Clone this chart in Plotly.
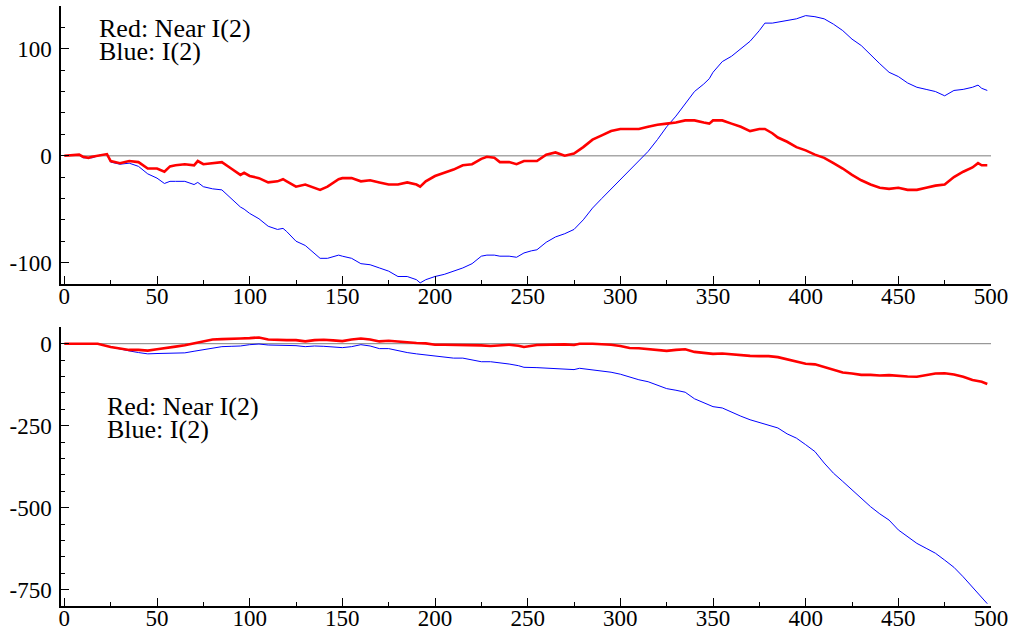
import plotly.graph_objects as go

# ---------------- data ----------------
top_x = [0, 5, 8, 10, 13, 15, 20, 23, 25, 30, 35, 40, 45, 50, 54, 57, 60, 65, 70, 72, 75, 80, 85, 90, 95, 97,
         100, 105, 110, 115, 118, 120, 125, 130, 135, 138, 142, 148, 150, 155, 160, 165, 170, 175, 180, 185,
         190, 192, 195, 200, 205, 210, 215, 220, 225, 228, 232, 235, 240, 244, 248, 252, 255, 260, 265, 270,
         275, 280, 285, 290, 295, 300, 305, 310, 315, 320, 325, 330, 335, 340, 345, 348, 350, 355, 360, 365,
         370, 375, 378, 382, 385, 390, 395, 400, 405, 410, 415, 420, 425, 430, 435, 440, 445, 450, 455, 460,
         465, 470, 475, 480, 485, 490, 493, 495, 498]

top_red = [0, 1, 1, -1, -2, -1, 1, 1.5, -5, -7, -5, -6, -12, -12, -15, -10, -9, -8, -9, -5, -8, -7, -6, -12, -18, -16,
           -19, -21, -25, -24, -22, -24, -29, -27, -30, -32, -29, -22, -21, -21, -24, -23, -25, -27, -27, -25,
           -27, -29, -24, -19, -16, -13, -9, -8, -3, -1, -2, -6, -6, -8, -5, -5, -5, 1, 3, 0,
           2, 8, 15, 19, 23, 25, 25, 25, 27, 29, 30, 31, 33, 33, 31, 30, 33, 33, 30, 27,
           23, 25, 25, 21, 17, 13, 8, 5, 1, -2, -7, -12, -18, -23, -27, -30, -31, -30, -32, -32,
           -30, -28, -27, -20, -15, -11, -7, -9, -9]

top_blue = [0, 1, 1, -2, -2, -2, 1, 1, -6, -8, -7, -10, -17, -21, -26, -24, -24, -24, -27, -25, -29, -31, -32, -40, -48, -50,
            -54, -59, -66, -69, -68, -71, -80, -84, -91, -96, -96, -93, -94, -96, -101, -102, -105, -108, -113, -113,
            -116, -119, -116, -113, -111, -108, -105, -101, -94, -93, -93, -94, -94, -95, -91, -89, -88, -81, -76, -73,
            -69, -60, -49, -40, -31, -23, -13, -4.5, 4, 15, 27, 37, 48, 60, 67, 72, 78, 88, 93, 100,
            107, 117, 124, 124, 125, 127, 128, 131, 130, 128, 123, 117, 109, 103, 94, 86, 78, 74, 68, 64,
            62, 60, 56, 61, 62, 64, 66, 63, 61]

bot_x = [0, 10, 18, 25, 30, 35, 40, 45, 50, 55, 60, 65, 70, 75, 80, 85, 90, 95, 100, 105, 110, 115, 120, 125,
         130, 135, 140, 145, 150, 155, 160, 165, 170, 175, 180, 185, 190, 195, 200, 205, 210, 215, 220, 225,
         230, 235, 240, 245, 248, 255, 260, 265, 270, 275, 278, 285, 290, 295, 300, 305, 310, 315, 320, 325,
         330, 335, 340, 345, 350, 355, 360, 365, 370, 375, 380, 385, 390, 395, 400, 405, 410, 415, 420, 425,
         430, 435, 440, 445, 450, 455, 460, 465, 470, 475, 480, 485, 490, 495, 498]

bot_red = [0, 0, 0, -10, -15, -19, -19, -21, -17, -12, -9, -5, 1, 7, 13, 14, 14, 16, 17, 19, 13, 11, 11, 11,
           7, 11, 12, 10, 8, 13, 16, 13, 7, 9, 6, 4, 2, 1, -3, -3, -3, -3, -4, -5,
           -7, -5, -3, -6, -10, -4, -3, -3, -2, -4, 0, 0, -1, -3, -7, -13, -14, -16, -19, -22,
           -19, -17, -25, -29, -31, -30, -33, -36, -37, -38, -38, -41, -48, -53, -61, -63, -71, -80, -88, -91,
           -95, -95, -97, -96, -99, -100, -101, -96, -91, -90, -94, -101, -111, -116, -123]

bot_blue = [0, 0, 0, -10, -17, -22, -27, -31, -30, -30, -30, -28, -23, -18, -14, -9, -8, -7, -3, -1, -4, -4, -5, -6,
            -9, -7, -8, -11, -12, -9, -3, -7, -15, -15, -22, -27, -31, -34, -37, -42, -44, -44, -49, -55,
            -55, -58, -62, -67, -72, -73, -74, -76, -78, -79, -75, -80, -82, -87, -93, -102, -110, -116, -127, -137,
            -142, -148, -168, -181, -192, -196, -209, -221, -232, -240, -247, -257, -275, -288, -308, -329, -364, -395, -420, -446,
            -471, -497, -519, -538, -568, -589, -609, -624, -639, -660, -682, -711, -743, -773, -793]

x_ticks = [0, 50, 100, 150, 200, 250, 300, 350, 400, 450, 500]
top_y_ticks = [-100, 0, 100]
bot_y_ticks = [-750, -500, -250, 0]
legend_lines = ["Red: Near I(2)", "Blue: I(2)"]

# ---------------- figure ----------------
FONT = "Liberation Serif, Times New Roman, serif"
fig = go.Figure()

fig.add_trace(go.Scatter(x=top_x, y=top_blue, mode="lines", line=dict(color="#0000ff", width=1),
                         xaxis="x", yaxis="y", showlegend=False))
fig.add_trace(go.Scatter(x=top_x, y=top_red, mode="lines", line=dict(color="#ff0000", width=2.6),
                         xaxis="x", yaxis="y", showlegend=False))
fig.add_trace(go.Scatter(x=bot_x, y=bot_blue, mode="lines", line=dict(color="#0000ff", width=1),
                         xaxis="x2", yaxis="y2", showlegend=False))
fig.add_trace(go.Scatter(x=bot_x, y=bot_red, mode="lines", line=dict(color="#ff0000", width=2.6),
                         xaxis="x2", yaxis="y2", showlegend=False))

# zero reference lines
fig.add_shape(type="line", xref="x", yref="y", x0=0, x1=500, y0=0, y1=0,
              line=dict(color="#a8a8a8", width=1.5), layer="below")
fig.add_shape(type="line", xref="x2", yref="y2", x0=0, x1=500, y0=0, y1=0,
              line=dict(color="#808080", width=1), layer="below")


def fmt(v):
    return str(v).replace("\u2212", "-")


xaxis_common = dict(
    range=[-1.8, 500], tickmode="array", tickvals=x_ticks, ticktext=[fmt(v) for v in x_ticks],
    ticks="inside", ticklen=8, tickwidth=1, tickcolor="black",
    showline=True, linecolor="black", linewidth=1.5, showgrid=False, zeroline=False,
    tickfont=dict(family=FONT, size=23, color="black"),
    ticklabelstandoff=-9,
    minor=dict(dtick=25, tick0=0, ticks="inside", ticklen=4, tickcolor="black", showgrid=False),
    automargin=False, fixedrange=True,
)

yaxis_common = dict(
    ticks="inside", ticklen=8, tickcolor="black",
    showline=True, linecolor="black", linewidth=1.5, showgrid=False, zeroline=False,
    tickfont=dict(family=FONT, size=23, color="black"),
    ticklabelstandoff=3,
    automargin=False, fixedrange=True,
)

fig.update_layout(
    width=1017, height=630,
    margin=dict(l=61, r=26, t=6, b=24),
    paper_bgcolor="white", plot_bgcolor="white",
    showlegend=False,
    xaxis=dict(domain=[0, 1], anchor="y", **xaxis_common),
    xaxis2=dict(domain=[0, 1], anchor="y2", **xaxis_common),
    yaxis=dict(domain=[0.5367, 1], anchor="x", range=[-120, 140],
               tickmode="array", tickvals=top_y_ticks, ticktext=[fmt(v) for v in top_y_ticks],
               minor=dict(dtick=20, tick0=0, ticks="inside", ticklen=4, tickcolor="black", showgrid=False),
               **yaxis_common),
    yaxis2=dict(domain=[0, 0.4645], anchor="x2", range=[-800, 50],
                tickmode="array", tickvals=bot_y_ticks, ticktext=[fmt(v) for v in bot_y_ticks],
                minor=dict(dtick=50, tick0=0, ticks="inside", ticklen=4, tickcolor="black", showgrid=False),
                **yaxis_common),
)

# two-line label as one annotation per panel, with tight line spacing like the reference
ann_pos = [(0.0395, 0.9633), (0.0395, 0.9242), (0.0485, 0.3325), (0.0485, 0.2942)]
for i, (ax, ay) in enumerate(ann_pos):
    fig.add_annotation(text=legend_lines[i % 2], xref="paper", yref="paper", x=ax, y=ay,
                       xanchor="left", yanchor="middle", showarrow=False, borderpad=0,
                       font=dict(family=FONT, size=26, color="black"))

fig.write_html("out.html", config={"displayModeBar": False},
               post_script="document.body.style.margin='0px';")
